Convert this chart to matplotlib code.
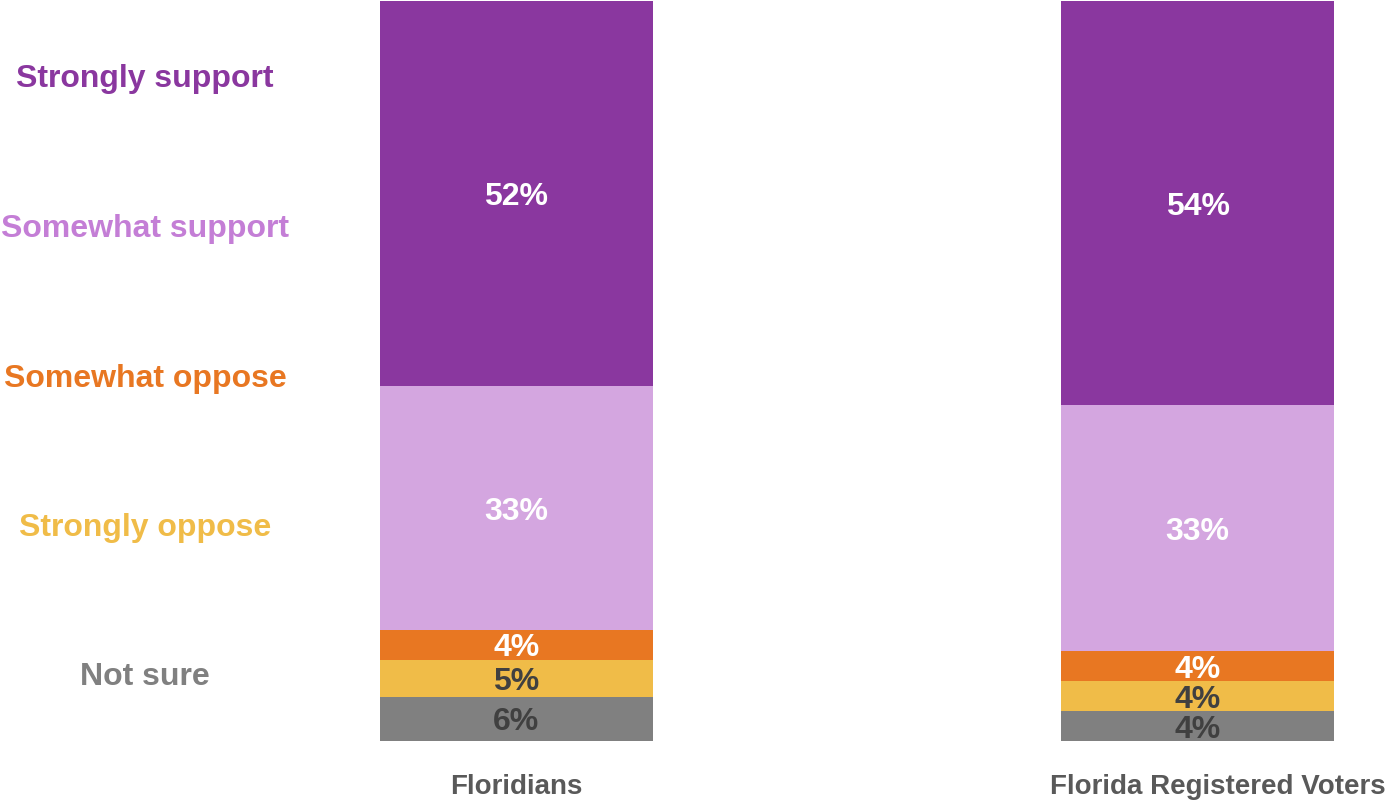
import matplotlib.pyplot as plt
import numpy as np

groups = ['Floridians', 'Florida Registered Voters']
answers = ['Strongly support', 'Somewhat support', 'Somewhat oppose',
           'Strongly oppose', 'Not sure']
# stacked from the top down, as in the legend
strongly_support = [52, 54]
somewhat_support = [33, 33]
somewhat_oppose = [4, 4]
strongly_oppose = [5, 4]
not_sure = [6, 4]

bar_colors = ['#8A379F', '#D4A6E0', '#E87722', '#F0BC48', '#808080']
legend_colors = ['#8A379F', '#C47ED6', '#E87722', '#F0BC48', '#808080']
label_colors = ['white', 'white', 'white', '#404040', '#404040']

plt.rcParams['font.family'] = ['Liberation Sans', 'DejaVu Sans']

fig = plt.figure(figsize=(13.92, 8), dpi=100)
ax = fig.add_axes([380 / 1392, 59 / 800, 954 / 1392, 740 / 800])

# draw bottom up: not sure, strongly oppose, somewhat oppose, somewhat support, strongly support
series = [not_sure, strongly_oppose, somewhat_oppose, somewhat_support, strongly_support]
colors = bar_colors[::-1]
txt_colors = label_colors[::-1]
totals = np.sum(series, axis=0)
x = np.arange(len(groups))
bottom = np.zeros(len(groups))
for vals, c, tc in zip(series, colors, txt_colors):
    share = np.array(vals) / totals * 100
    ax.bar(x, share, bottom=bottom, width=0.4, color=c)
    for xi, b, s, v in zip(x, bottom, share, vals):
        ax.text(xi, b + s / 2 - 0.5, f'{v}%', ha='center', va='center',
                fontsize=23, fontweight='bold', color=tc)
    bottom += share

ax.set_xlim(-0.2, 1.2)
ax.set_ylim(0, 100)
ax.axis('off')

# the second group label sits a little right of its bar in the original
for gx, g, dx in zip(x, groups, [0, 0.03]):
    ax.text(gx + dx, -6.2, g, ha='center', va='center', fontsize=20,
            fontweight='bold', color='#595959')

legend_y = [79, 229, 379, 528, 677]
for name, c, py in zip(answers, legend_colors, legend_y):
    fig.text(145 / 1392, 1 - py / 800, name, ha='center', va='center',
             fontsize=23, fontweight='bold', color=c)

fig.savefig('out.png', dpi=100)
